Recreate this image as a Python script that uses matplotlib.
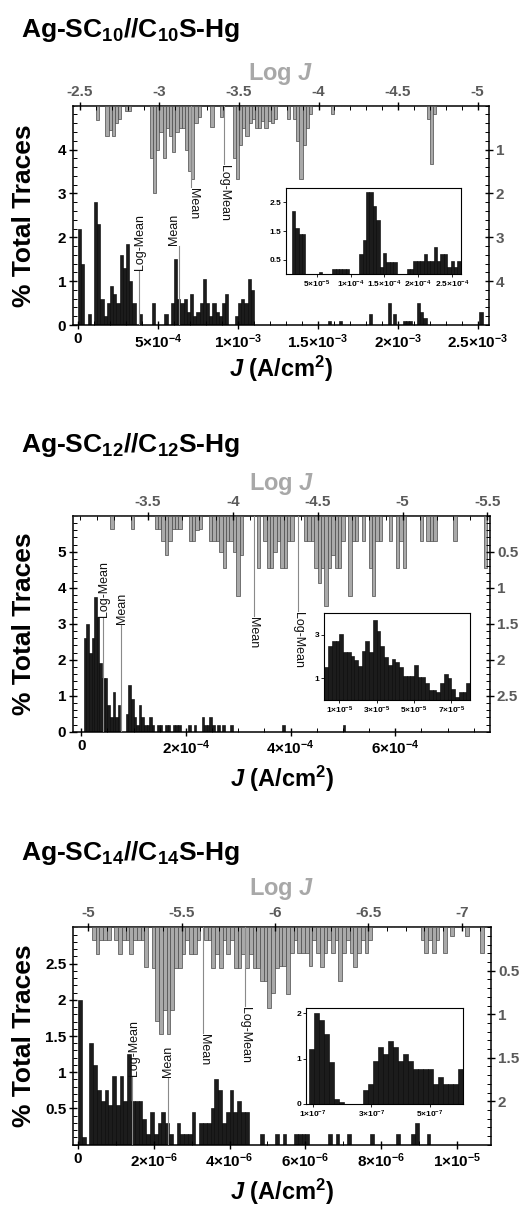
import numpy as np
import matplotlib
matplotlib.use('Agg')
import matplotlib.pyplot as plt
from matplotlib.ticker import MultipleLocator, FixedLocator
from matplotlib.transforms import offset_copy

plt.rcParams['font.family'] = ['Liberation Sans', 'DejaVu Sans']
plt.rcParams['font.weight'] = 'bold'
plt.rcParams['mathtext.fontset'] = 'custom'
plt.rcParams['mathtext.rm'] = 'Liberation Sans:bold'
plt.rcParams['mathtext.bf'] = 'Liberation Sans:bold'
plt.rcParams['mathtext.it'] = 'Liberation Sans:bold:italic'
plt.rcParams['mathtext.default'] = 'bf'

# ---------------- DATA ----------------
titles = [r'Ag-SC$_{10}$//C$_{10}$S-Hg', r'Ag-SC$_{12}$//C$_{12}$S-Hg', r'Ag-SC$_{14}$//C$_{14}$S-Hg']

# Panel 1 (C10) ---- J histogram (A/cm2), % traces
p1_j_start, p1_j_width = 0.0, 2e-5
p1_j_counts = [2.2, 1.4, 0, 0.25, 0, 2.8, 2.3, 0.6, 0.2, 0.5, 0.9, 0.7, 0.5, 1.6, 1.3, 1.85, 1.0, 0.5,
               0, 0.25, 0, 0, 0, 0.5, 0, 0, 0, 0.25, 0, 0.5, 1.5, 0.6, 0.5, 0.6, 0.3, 0.7, 0.2, 0.3,
               0.5, 1.05, 0.5, 0.2, 0.5, 0.3, 0.2, 0.5, 0.7, 0, 0, 0.2, 0.5, 0.6, 0.5, 1.05, 0.8]
p1_tail_j = [1.57e-3, 1.64e-3, 1.83e-3, 1.95e-3, 1.98e-3, 2.04e-3, 2.06e-3, 2.08e-3, 2.13e-3, 2.15e-3, 2.17e-3, 2.52e-3]
p1_tail_counts = [0.1, 0.1, 0.25, 0.5, 0.25, 0.1, 0.1, 0.1, 0.5, 0.3, 0.15, 0.3]
# log J histogram (bins in -log J)
p1_u_start, p1_u_width = 2.46, 0.02
p1_u_counts = [0, 0, 0, 0, 0, 0, 0, 0.33, 0, 0, 0.7, 0.55, 0.7, 0.4, 0.3, 0, 0.12, 0.12, 0, 0, 0, 0, 0, 0,
               1.2, 2.0, 1.0, 0.6, 1.2, 0.5, 0.7, 1.05, 0.6, 0.5, 0.5, 1.0, 1.5, 1.67, 0.4, 0.25, 0, 0, 0,
               0.48, 0, 0, 0.25, 0, 0, 0, 1.2, 1.67, 0.9, 0.5, 0.7, 0.4, 0.3, 0.5, 0.5, 0.35, 0.5, 0.35,
               0.4, 0.3, 0, 0, 0, 0.3, 0, 0.3, 0.8, 1.66, 0.9, 0.5, 0.2, 0, 0, 0, 0, 0, 0, 0.2, 0, 0, 0,
               0, 0, 0, 0, 0, 0, 0, 0, 0, 0, 0, 0, 0, 0, 0, 0, 0, 0, 0, 0, 0, 0, 0, 0, 0, 0, 0.3, 1.32, 0.2]
# inset
p1_in_start, p1_in_width = 1.3e-5, 5e-6
p1_in_counts = [2.2, 1.6, 1.4, 1.4, 0, 0, 0, 0, 0.08, 0, 0, 0, 0.2, 0.2, 0.2, 0.2, 0.2, 0, 0, 0, 0.7, 1.2,
                2.84, 2.84, 2.36, 1.87, 0.27, 0.73, 0.44, 0.44, 0.44, 0, 0, 0, 0.2, 0.2, 0.45, 0.45, 0.45,
                0.7, 0.45, 0.45, 0.95, 0.45, 0.7, 0.7, 0.25, 0.45, 0.25, 0.45]
p1_mean_j, p1_logmean_j = 6.29e-4, 3.83e-4
p1_mean_u, p1_logmean_u = 3.198, 3.408

# Panel 2 (C12)
p2_j_start, p2_j_width = 0.0, 5e-6
p2_j_counts = [0, 2.6, 3.0, 2.2, 2.6, 3.75, 3.2, 1.9, 1.5, 1.5, 0.75, 0.4, 1.1, 0.4, 0.75, 0, 0, 0.5, 1.3,
               0.9, 0.4, 0.2, 0.75, 0.4, 0.2, 0.2, 0.4, 0.2, 0, 0.2, 0.2, 0, 0.2, 0.2, 0, 0.2, 0.2, 0.2,
               0, 0, 0, 0.2, 0, 0.2, 0, 0, 0.4, 0.2, 0.2, 0.4, 0.2, 0, 0.2, 0, 0.2, 0, 0, 0.2]
p2_tail_j = [3.87e-4, 5.02e-4]
p2_tail_counts = [0.2, 0.2]
p2_u_start, p2_u_width = 3.06, 0.02
p2_u_counts = [0, 0, 0, 0, 0, 0, 0, 0, 0, 0, 0, 0.18, 0, 0, 0, 0, 0, 0.18, 0, 0, 0, 0, 0, 0, 0.18, 0.18,
               0.35, 0.54, 0.35, 0.18, 0.18, 0.18, 0, 0, 0.35, 0.35, 0.2, 0.18, 0, 0, 0.35, 0.35, 0.35,
               0.5, 0.73, 0.35, 0.35, 0.5, 1.12, 0.55, 0, 0, 0, 0, 0.73, 0, 0.35, 0.73, 0.73, 0.5, 0.35,
               0.73, 0.73, 0.35, 0.35, 0, 0, 0, 0.35, 0.35, 0.35, 0.73, 0.94, 0.73, 1.25, 0.73, 0.55,
               0.73, 0.73, 0.35, 0, 1.12, 0.35, 0.35, 0, 0.35, 0, 0.73, 1.12, 0.35, 0.35, 0, 0, 0.35, 0,
               0.73, 0.35, 0.73, 0, 0, 0, 0, 0.35, 0, 0.35, 0.35, 0.35, 0, 0, 0, 0, 0, 0.35, 0, 0, 0, 0,
               0, 0, 0, 0, 0.73, 0]
p2_in_start, p2_in_width = 2e-6, 2e-6
p2_in_counts = [1.5, 2.5, 2.7, 2.7, 3.03, 2.2, 2.2, 2.05, 1.85, 1.55, 2.25, 2.7, 2.2, 3.7, 3.18, 2.5, 2.0,
                1.6, 1.9, 1.75, 1.5, 1.1, 1.1, 1.1, 1.6, 1.05, 1.05, 0.8, 0.45, 0.45, 0.35, 0.8, 1.2, 1.0,
                0.5, 0.15, 0.35, 0.35, 0.8]
p2_mean_j, p2_logmean_j = 7.6e-5, 4.15e-5
p2_mean_u, p2_logmean_u = 4.126, 4.383

# Panel 3 (C14)
p3_j_start, p3_j_width = 0.0, 1e-7
p3_j_counts = [2.0, 0.1, 0, 1.4, 1.1, 0.75, 0.6, 0.75, 0.55, 0.95, 0.55, 0.95, 0.6, 1.25, 0.6, 0.6, 0.6,
               0.35, 0.15, 0.45, 0.15, 0.3, 0.45, 0.3, 0.15, 0, 0.3, 0.15, 0.15, 0.15, 0.45, 0, 0.3, 0.3,
               0.3, 0.5, 0.9, 0.75, 0.3, 0.45, 0.75, 0.45, 0.6, 0.45, 0.45]
p3_tail_j = [4.85e-6, 5.25e-6, 5.45e-6, 5.75e-6, 5.85e-6, 5.95e-6, 6.05e-6, 6.65e-6, 6.85e-6, 7.15e-6,
             7.75e-6, 8.45e-6, 8.85e-6, 8.95e-6, 9.25e-6]
p3_tail_counts = [0.15, 0.15, 0.15, 0.15, 0.15, 0.15, 0.15, 0.15, 0.15, 0.15, 0.15, 0.15, 0.15, 0.3, 0.15]
p3_u_start, p3_u_width = 4.92, 0.02
p3_u_counts = [0, 0, 0, 0, 0, 0.15, 0.31, 0.15, 0.15, 0.15, 0, 0.15, 0.31, 0.15, 0.15, 0.31, 0.15, 0.15,
               0.15, 0.46, 0, 0.47, 1.08, 1.23, 0.95, 1.23, 0.95, 0.47, 0.47, 0.31, 0.15, 0.31, 0.31, 0.15,
               0, 0.15, 0.15, 0.47, 0.31, 0.47, 0.15, 0.31, 0.15, 0.47, 0.47, 0.31, 0.47, 0.31, 0.47, 0.47,
               0.62, 0.62, 0.93, 0.75, 0.47, 0.45, 0.45, 0.77, 0.3, 0.15, 0.3, 0.3, 0.3, 0.45, 0.15, 0.3,
               0.46, 0.3, 0.15, 0.3, 0.15, 0.62, 0.3, 0.15, 0.3, 0.46, 0.3, 0.15, 0.3, 0.15, 0, 0, 0, 0, 0,
               0, 0, 0, 0, 0, 0, 0, 0, 0.15, 0.3, 0.15, 0.3, 0.15, 0, 0.3, 0, 0.1, 0, 0, 0, 0.1, 0, 0, 0,
               0.3, 0, 0]
p3_in_start, p3_in_width = 8.6e-8, 1.7e-8
p3_in_counts = [1.22, 2.0, 1.85, 1.55, 0.93, 0.12, 0.05, 0, 0, 0, 0, 0.3, 0.44, 0.95, 1.25, 1.1, 1.39,
                1.25, 0.95, 1.1, 0.95, 0.78, 0.78, 0.78, 0.78, 0.45, 0.6, 0.45, 0.45, 0.45, 0.78]
p3_mean_j, p3_logmean_j = 2.37e-6, 1.42e-6
p3_mean_u, p3_logmean_u = 5.616, 5.839

# tick labels
p1_xticks = [0, 5e-4, 1e-3, 1.5e-3, 2e-3, 2.5e-3]
p1_xlabels = ['0', r'$5{\times}10^{-4}$', r'$1{\times}10^{-3}$', r'$1.5{\times}10^{-3}$', r'$2{\times}10^{-3}$', r'$2.5{\times}10^{-3}$']
p1_yticks = [0, 1, 2, 3, 4]
p1_uticks = [-2.5, -3, -3.5, -4, -4.5, -5]
p1_rticks = [1, 2, 3, 4]
p1_in_xticks = [5e-5, 1e-4, 1.5e-4, 2e-4, 2.5e-4]
p1_in_xlabels = [r'$5{\times}10^{-5}$', r'$1{\times}10^{-4}$', r'$1.5{\times}10^{-4}$', r'$2{\times}10^{-4}$', r'$2.5{\times}10^{-4}$']
p1_in_yticks = [0.5, 1.5, 2.5]

p2_xticks = [0, 2e-4, 4e-4, 6e-4]
p2_xlabels = ['0', r'$2{\times}10^{-4}$', r'$4{\times}10^{-4}$', r'$6{\times}10^{-4}$']
p2_yticks = [0, 1, 2, 3, 4, 5]
p2_uticks = [-3.5, -4, -4.5, -5, -5.5]
p2_rticks = [0.5, 1, 1.5, 2, 2.5]
p2_in_xticks = [1e-5, 3e-5, 5e-5, 7e-5]
p2_in_xlabels = [r'$1{\times}10^{-5}$', r'$3{\times}10^{-5}$', r'$5{\times}10^{-5}$', r'$7{\times}10^{-5}$']
p2_in_yticks = [1, 3]

p3_xticks = [0, 2e-6, 4e-6, 6e-6, 8e-6, 1e-5]
p3_xlabels = ['0', r'$2{\times}10^{-6}$', r'$4{\times}10^{-6}$', r'$6{\times}10^{-6}$', r'$8{\times}10^{-6}$', r'$1{\times}10^{-5}$']
p3_yticks = [0.5, 1, 1.5, 2, 2.5]
p3_uticks = [-5, -5.5, -6, -6.5, -7]
p3_rticks = [0.5, 1, 1.5, 2]
p3_in_xticks = [1e-7, 3e-7, 5e-7]
p3_in_xlabels = [r'$1{\times}10^{-7}$', r'$3{\times}10^{-7}$', r'$5{\times}10^{-7}$']
p3_in_yticks = [0, 1, 2]

# ---------------- FIGURE ----------------
W, H = 523, 1207
fig = plt.figure(figsize=(W / 100, H / 100), dpi=100)
fig.patch.set_facecolor('white')


def rect_px(l, t, r, b):
    return [l / W, 1 - b / H, (r - l) / W, (b - t) / H]


def bars(ax, start, width, counts, sign=1, **kw):
    centers = start + width * (np.arange(len(counts)) + 0.5)
    ax.bar(sign * centers, counts, width=width, align='center', **kw)


def fmt(v):
    s = ('%g' % v)
    return s


BLACK = dict(color='#1c1c1c', edgecolor='#000000', linewidth=0.4)
GRAY = dict(color='#a9a9a9', edgecolor='#4a4a4a', linewidth=0.5)
LINEC = '#8a8a8a'


def panel(box, title_base, title, logj_base, xlab_c,
          j_start, j_width, j_counts, tail_j, tail_counts, j_xlim, j_ylim,
          u_start, u_width, u_counts, u_xlim, u_ylim,
          xticks, xlabels, xminor, yticks, yminor, uticks, rticks, rminor,
          inset_box, in_start, in_width, in_counts, in_xlim, in_ylim, in_xticks, in_xlabels, in_yticks,
          mean_j, logmean_j, mean_u, logmean_u, ann):
    l, t, r, b = box
    ax = fig.add_axes(rect_px(l, t, r, b), label=title + 'a')
    ax2 = fig.add_axes(rect_px(l, t, r, b), label=title + 'b', frameon=False)
    ax2.patch.set_alpha(0)
    # black J histogram
    bars(ax, j_start, j_width, j_counts, **BLACK)
    ax.bar(tail_j, tail_counts, width=j_width, align='center', **BLACK)
    ax.set_xlim(*j_xlim)
    ax.set_ylim(*j_ylim)
    # gray log histogram
    bars(ax2, u_start, u_width, u_counts, sign=-1, **GRAY)
    ax2.set_xlim(-u_xlim[0], -u_xlim[1])
    ax2.set_ylim(*u_ylim)
    # ticks
    ax.xaxis.set_major_locator(FixedLocator(xticks))
    ax.set_xticklabels(xlabels)
    ax.xaxis.set_minor_locator(MultipleLocator(xminor))
    ax.yaxis.set_major_locator(FixedLocator(yticks))
    ax.set_yticklabels([fmt(v) for v in yticks])
    ax.yaxis.set_minor_locator(MultipleLocator(yminor))
    ax.tick_params(top=False, right=False, which='both')
    ax.tick_params(which='major', direction='inout', length=6, width=1.0, labelsize=11, pad=2)
    ax.tick_params(which='minor', direction='in', length=3, width=0.7)
    ax2.xaxis.tick_top()
    ax2.yaxis.tick_right()
    ax2.xaxis.set_major_locator(FixedLocator(uticks))
    ax2.set_xticklabels([fmt(v) for v in uticks])
    ax2.xaxis.set_minor_locator(MultipleLocator(0.1))
    ax2.yaxis.set_major_locator(FixedLocator(rticks))
    ax2.set_yticklabels([fmt(v) for v in rticks])
    ax2.yaxis.set_minor_locator(MultipleLocator(rminor))
    ax2.tick_params(which='major', direction='inout', length=6, width=1.0, labelsize=11, pad=2,
                    labelcolor='#5a5a5a')
    ax2.tick_params(which='minor', direction='in', length=3, width=0.7)
    for sp in ax.spines.values():
        sp.set_linewidth(1.1)
    # annotation lines
    (blm_top, blm_dx, bm_top, bm_dx, gm_end, gm_dx, glm_end, glm_dx) = ann
    for xv, top, dx, txt in [(logmean_j, blm_top, blm_dx, 'Log-Mean'), (mean_j, bm_top, bm_dx, 'Mean')]:
        ax.plot([xv, xv], [0, top], color=LINEC, lw=0.8, zorder=3)
        tr = offset_copy(ax.transData, fig=fig, x=dx, y=1, units='dots')
        ax.text(xv, top, txt, rotation=90, ha='center', va='bottom', fontsize=9,
                fontweight='normal', transform=tr, color='#111111')
    for uv, end, dx, txt in [(mean_u, gm_end, gm_dx, 'Mean'), (logmean_u, glm_end, glm_dx, 'Log-Mean')]:
        ax2.plot([-uv, -uv], [0, end], color=LINEC, lw=0.8, zorder=3)
        tr = offset_copy(ax2.transData, fig=fig, x=dx, y=-1, units='dots')
        ax2.text(-uv, end, txt, rotation=270, ha='center', va='top', fontsize=9,
                 fontweight='normal', transform=tr, color='#111111')
    # inset
    il, it, ir, ib = inset_box
    axi = fig.add_axes(rect_px(il, it, ir, ib), label=title + 'i')
    axi.set_facecolor('white')
    bars(axi, in_start, in_width, in_counts, **BLACK)
    axi.set_xlim(*in_xlim)
    axi.set_ylim(*in_ylim)
    axi.xaxis.set_major_locator(FixedLocator(in_xticks))
    axi.set_xticklabels(in_xlabels)
    axi.yaxis.set_major_locator(FixedLocator(in_yticks))
    axi.set_yticklabels([fmt(v) for v in in_yticks])
    axi.tick_params(direction='out', length=2, width=0.6, labelsize=6, pad=1.5)
    for sp in axi.spines.values():
        sp.set_linewidth(0.8)
    # texts
    fig.text(21 / W, 1 - title_base / H, title, fontsize=19, fontweight='bold', ha='left', va='baseline')
    fig.text((l + r) / 2 / W, 1 - logj_base / H, r'Log $\mathit{J}$', fontsize=17, color='#a8a8a8',
             ha='center', va='baseline')
    fig.text((l + r) / 2 / W, 1 - xlab_c / H, r'$\mathit{J}$ (A/cm$^2$)', fontsize=17, ha='center', va='center')
    fig.text(24 / W, 1 - (t + b) / 2 / H, '% Total Traces', fontsize=19, rotation=90, ha='center', va='center')


panel((73.3, 105.7, 489, 325), 36.7, titles[0], 80, 369,
      p1_j_start, p1_j_width, p1_j_counts, p1_tail_j, p1_tail_counts, (-3e-5, 2.57e-3), (0, 5.0),
      p1_u_start, p1_u_width, p1_u_counts, (2.458, 5.072), (5.0, 0),
      p1_xticks, p1_xlabels, 1e-4, p1_yticks, 0.2, p1_uticks, p1_rticks, 0.2,
      (286, 187.7, 460.7, 274.3), p1_in_start, p1_in_width, p1_in_counts, (4.4e-6, 2.63e-4), (0, 3.0),
      p1_in_xticks, p1_in_xlabels, p1_in_yticks,
      p1_mean_j, p1_logmean_j, p1_mean_u, p1_logmean_u,
      (1.22, 1, 1.79, -5, 1.86, 2, 1.32, 0))

panel((73.3, 515.7, 490, 731.7), 451.5, titles[1], 490, 779,
      p2_j_start, p2_j_width, p2_j_counts, p2_tail_j, p2_tail_counts, (-1.5e-5, 7.81e-4), (0, 6.0),
      p2_u_start, p2_u_width, p2_u_counts, (3.061, 5.515), (3.0, 0),
      p2_xticks, p2_xlabels, 5e-5, p2_yticks, 0.2, p2_uticks, p2_rticks, 0.1,
      (324, 613.3, 470, 700), p2_in_start, p2_in_width, p2_in_counts, (1.8e-6, 8.0e-5), (0, 4.0),
      p2_in_xticks, p2_in_xlabels, p2_in_yticks,
      p2_mean_j, p2_logmean_j, p2_mean_u, p2_logmean_u,
      (3.17, 1, 2.97, 1, 1.39, -1, 1.32, 0))

panel((73.3, 927.3, 491, 1144.7), 860, titles[2], 895, 1192,
      p3_j_start, p3_j_width, p3_j_counts, p3_tail_j, p3_tail_counts, (-1.24e-7, 1.09e-5), (0, 3.0),
      p3_u_start, p3_u_width, p3_u_counts, (4.92, 7.157), (2.5, 0),
      p3_xticks, p3_xlabels, 1e-6, p3_yticks, 0.1, p3_uticks, p3_rticks, 0.1,
      (306, 1007.7, 463.3, 1104), p3_in_start, p3_in_width, p3_in_counts, (7.6e-8, 6.15e-7), (0, 2.12),
      p3_in_xticks, p3_in_xlabels, p3_in_yticks,
      p3_mean_j, p3_logmean_j, p3_mean_u, p3_logmean_u,
      (0.94, 2, 0.92, 0, 1.21, 1, 0.91, 0))

fig.savefig('out.png', dpi=100, facecolor='white')
